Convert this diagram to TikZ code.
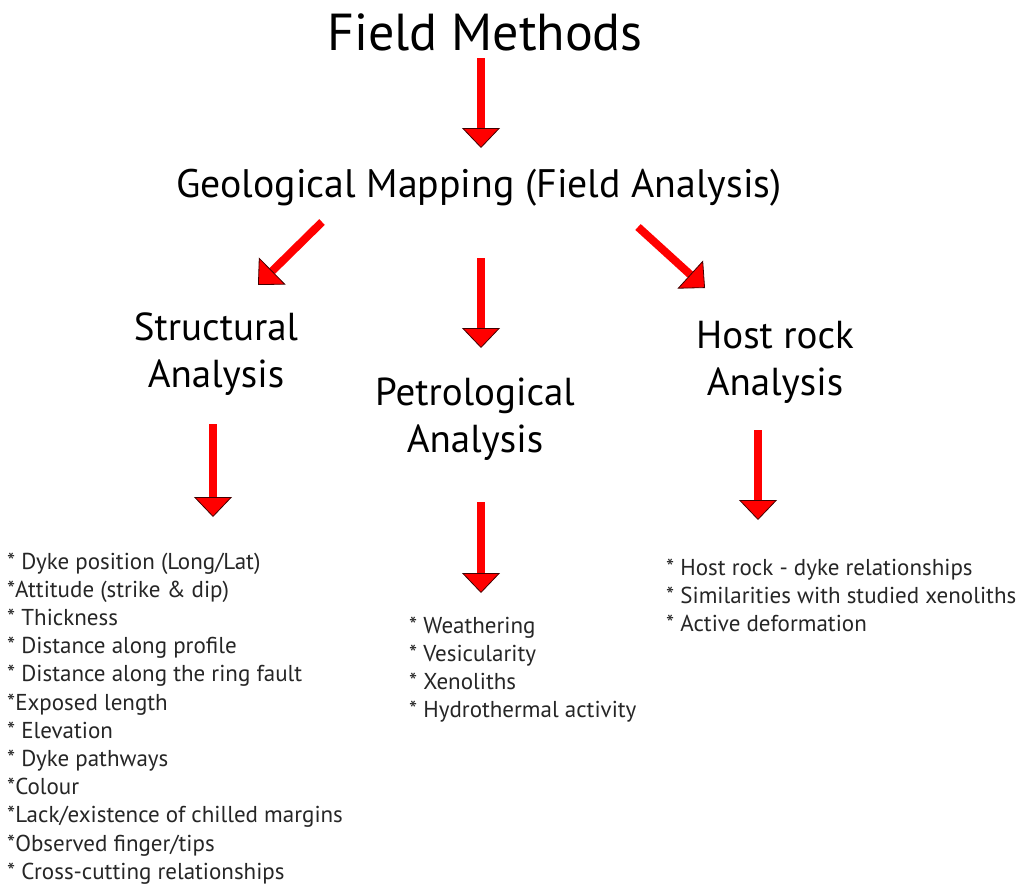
\documentclass[tikz,border=0pt]{standalone}
\usepackage{fontspec}
\setmainfont{PT Sans}
\usetikzlibrary{arrows.meta}
\begin{document}
\begin{tikzpicture}[x=1pt,y=-1pt,
  redarrow/.style={draw=red, line width=8pt,
    -{Triangle[width=38pt,length=20pt,color=black!75!red,fill=red,line width=0.8pt]}},
  titletext/.style={inner sep=0pt, anchor=base, text=black, font=\fontsize{52}{60}\selectfont},
  subtext/.style={inner sep=0pt, anchor=base, text=black, font=\fontsize{39.8}{48}\selectfont},
  headtext/.style={inner sep=0pt, anchor=base, text=black, font=\fontsize{39}{47}\selectfont},
  listtext/.style={inner sep=0pt, anchor=base west, text=black!85, font=\fontsize{23}{28.2}\selectfont}
]
\useasboundingbox[fill=white] (0,0) rectangle (1018,886);

% titles
\node[titletext] (fm) at (485,50) {Field Methods};
\node[subtext] (gm) at (479,197) {Geological Mapping (Field Analysis)};

% headings
\node[headtext] (sa) at (216,340) {\begin{tabular}[t]{@{}c@{}}Structural\\Analysis\end{tabular}};
\node[headtext] (pa) at (475,405) {\begin{tabular}[t]{@{}c@{}}Petrological\\Analysis\end{tabular}};
\node[headtext] (ha) at (775,348) {\begin{tabular}[t]{@{}c@{}}Host rock\\Analysis\end{tabular}};

% lists
\node[listtext] (sl) at (7,569) {\begin{tabular}[t]{@{}l@{}}
{}* Dyke position (Long/Lat)\\
{}*Attitude (strike \& dip)\\
{}* Thickness\\
{}* Distance along profile\\
{}* Distance along the ring fault\\
{}*Exposed length\\
{}* Elevation\\
{}* Dyke pathways\\
{}*Colour\\
{}*Lack/existence of chilled margins\\
{}*Observed finger/tips\\
{}* Cross-cutting relationships
\end{tabular}};
\node[listtext] (pl) at (409,633) {\begin{tabular}[t]{@{}l@{}}
{}* Weathering\\
{}* Vesicularity\\
{}* Xenoliths\\
{}* Hydrothermal activity
\end{tabular}};
\node[listtext] (hl) at (666,575) {\begin{tabular}[t]{@{}l@{}}
{}* Host rock - dyke relationships\\
{}* Similarities with studied xenoliths\\
{}* Active deformation
\end{tabular}};

% arrow end points
\coordinate (a1s) at (481,58);  \coordinate (a1e) at (481,148);
\coordinate (a2s) at (322,222); \coordinate (a2e) at (258,285);
\coordinate (a3s) at (481,258); \coordinate (a3e) at (481,348);
\coordinate (a4s) at (638,227); \coordinate (a4e) at (705,288);
\coordinate (a5s) at (213,424); \coordinate (a5e) at (213,517);
\coordinate (a6s) at (481,502); \coordinate (a6e) at (481,593);
\coordinate (a7s) at (758,430); \coordinate (a7e) at (758,520);

\draw[redarrow] (a1s) -- (a1e);
\draw[redarrow] (a2s) -- (a2e);
\draw[redarrow] (a3s) -- (a3e);
\draw[redarrow] (a4s) -- (a4e);
\draw[redarrow] (a5s) -- (a5e);
\draw[redarrow] (a6s) -- (a6e);
\draw[redarrow] (a7s) -- (a7e);
\end{tikzpicture}
\end{document}
